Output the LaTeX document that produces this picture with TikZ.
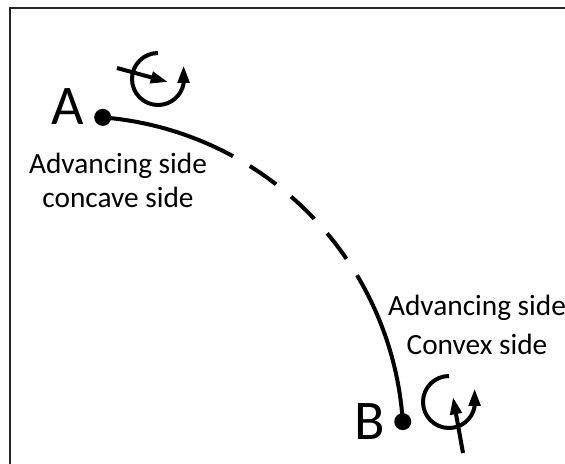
\documentclass[tikz,border=0pt]{standalone}
\usepackage{fontspec}
\setmainfont{Carlito}
\usetikzlibrary{arrows.meta,calc}

\begin{document}
\begin{tikzpicture}[x=0.75pt, y=0.75pt, dot/.style={circle, fill, inner sep=0pt, minimum size=12.75pt}, letter/.style={font=\fontsize{42}{42}\selectfont, inner sep=0pt, anchor=base}, side/.style={font=\fontsize{22}{25}\selectfont, align=center, inner sep=0pt}, track/.style={line width=3pt}, spin/.style={line width=3pt, -{Triangle[length=13pt, width=8.5pt]}}, frame/.style={line width=1.1pt, black!85}]
            \useasboundingbox (0,0) rectangle (565,464);
            % frame
            \draw[frame] (10,-5) -- (10,456) -- (575,456);
            % nodes
            \coordinate (O) at (76.5,20.7);
            \node[dot] (A) at ($(O)+(85.4:327)$) {};
            \node[dot] (B) at ($(O)+(3.8:327)$) {};
            \coordinate (P1) at ($(O)+(61.4:327)$);
            \coordinate (P2) at ($(O)+(30.75:327)$);
            \node[letter] (lA) at (68,339) {A};
            \node[letter] (lB) at (369.5,24) {B};
            \node[side] (sA) at (118,283.5) {Advancing side\\concave side};
            \node[side] (sB) at (477,139) {Advancing side\\[4pt]Convex side};
            \coordinate (cA) at (158,385);
            \coordinate (cB) at (449,62);
            \coordinate (a1) at (117,396);
            \coordinate (a2) at (168,382);
            \coordinate (b1) at (463,11);
            \coordinate (b2) at (453,67);
            % track
            \draw[track] (A.center) arc[start angle=85.4, end angle=61.4, radius=327];
            \draw[track, dash pattern=on 24pt off 14.6pt, dash phase=24pt] (P1) arc[start angle=61.4, end angle=30.75, radius=327];
            \draw[track] (P2) arc[start angle=30.75, end angle=3.8, radius=327];
            % rotation
            \draw[spin] (cA) ++(90:26) arc[start angle=90, end angle=350, radius=26] -- ++(0,18);
            \draw[spin] (a1) -- (a2);
            \draw[spin] (cB) ++(90:26) arc[start angle=90, end angle=350, radius=26] -- ++(0,18);
            \draw[spin] (b1) -- (b2);
        \end{tikzpicture}
\end{document}
